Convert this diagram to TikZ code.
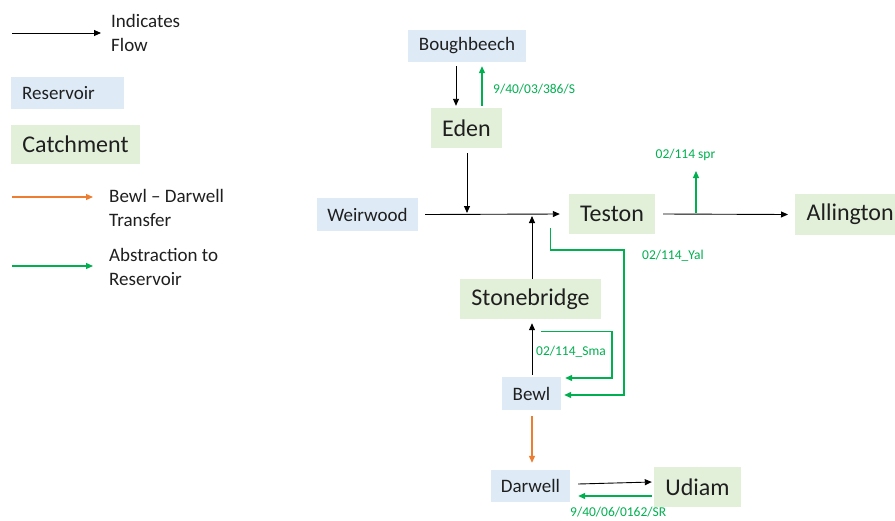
\documentclass[tikz,border=0pt]{standalone}
\usepackage{fontspec}
\setmainfont{Carlito}
\usetikzlibrary{arrows.meta,calc}
\definecolor{resv}{HTML}{DEEBF7}
\definecolor{catch}{HTML}{E2F0D9}
\definecolor{grn}{HTML}{00B050}
\definecolor{org}{HTML}{ED7D31}
\definecolor{txt}{HTML}{1F1F1F}
\begin{document}
\begin{tikzpicture}[x=1pt,y=-1pt,
  res/.style={fill=resv, text=txt, font=\fontsize{19}{23}\selectfont, inner sep=0pt, anchor=center},
  cat/.style={fill=catch, text=txt, font=\fontsize{24}{28}\selectfont, inner sep=0pt, anchor=center},
  legtext/.style={text=txt, font=\fontsize{19}{24}\selectfont, align=left, anchor=west, inner sep=0pt},
  glabel/.style={text=grn, font=\fontsize{13.5}{16}\selectfont, inner sep=0pt},
  tip/.style={-{Triangle[length=7pt,width=6pt]}},
  flow/.style={tip, draw=black, line width=0.9pt},
  abst/.style={tip, draw=grn, line width=1.2pt},
  xfer/.style={tip, draw=org, line width=1.2pt}]
\useasboundingbox (0,0) rectangle (895,520);
\fill[white] (0,0) rectangle (895,520);

% ---- legend ----
\coordinate (lfa) at (12,33);
\coordinate (lfb) at (101,33);
\draw[flow] (lfa) -- (lfb);
\node[legtext] (lflow) at (111,33) {Indicates\\Flow};
\node[res, minimum width=113pt, minimum height=32pt] (lres) at (67.5,93) {};
\node[text=txt, font=\fontsize{19}{23}\selectfont, anchor=west, inner sep=0pt] (lrest) at (22,93) {Reservoir};
\node[cat, minimum width=129pt, minimum height=39pt] (lcat) at (75.5,144.5) {Catchment};
\coordinate (loa) at (12,197);
\coordinate (lob) at (93,197);
\draw[xfer] (loa) -- (lob);
\node[legtext] (lorg) at (109,207.5) {Bewl -- Darwell\\Transfer};
\coordinate (lga) at (12,266);
\coordinate (lgb) at (93,266);
\draw[abst] (lga) -- (lgb);
\node[legtext] (lgrn) at (109,266.5) {Abstraction to\\Reservoir};

% ---- nodes ----
\node[res, minimum width=118pt, minimum height=32pt] (bough) at (467,46) {Boughbeech};
\node[cat, minimum width=71pt, minimum height=40pt] (eden) at (466.5,128) {Eden};
\node[res, minimum width=101pt, minimum height=33pt] (weir) at (367.5,214.5) {Weirwood};
\node[cat, minimum width=86pt, minimum height=40pt] (teston) at (612,214) {Teston};
\node[cat, minimum width=110pt, minimum height=41pt, anchor=west] (alling) at (795,214.5) {Allington};
\node[cat, minimum width=141pt, minimum height=40pt] (stone) at (530.5,299) {Stonebridge};
\node[res, minimum width=59pt, minimum height=33pt] (bewl) at (531.5,393.5) {Bewl};
\node[res, minimum width=79pt, minimum height=32pt] (darw) at (530.5,486) {Darwell};
\node[cat, minimum width=87pt, minimum height=40pt] (udiam) at (697.5,487) {Udiam};

% ---- connectors ----
% Boughbeech <-> Eden
\draw[flow] ([xshift=-11pt,yshift=-4pt]bough.south) -- ([xshift=-10.5pt,yshift=2pt]eden.north);
\draw[abst] ([xshift=15.5pt,yshift=2pt]eden.north) -- ([xshift=15pt,yshift=-4pt]bough.south);
\node[glabel, anchor=west] (l386) at (493,89) {9/40/03/386/S};

% Weirwood -> Teston, with Eden and Stonebridge joining
\coordinate (jeden) at (467,214);
\coordinate (jstone) at (532,214);
\draw[flow] ([xshift=7pt]weir.east) -- ([xshift=-9pt]teston.west);
\draw[flow] ([xshift=0.5pt,yshift=-5pt]eden.south) -- ([yshift=1pt]jeden);
\draw[flow] ([xshift=1.5pt]stone.north) -- ([yshift=-2pt]jstone);

% Teston abstraction to Bewl
\coordinate (tyal) at ($(teston.west)+(-18,14)$);
\draw[abst] (tyal) -- ++(0,22) -| (624,395) -- ([xshift=3pt,yshift=-1.5pt]bewl.east);
\node[glabel, anchor=west] (lyal) at (642,256) {02/114\_Yal};

% Teston -> Allington, with abstraction
\draw[flow] ([xshift=8pt]teston.east) -- ([xshift=-7pt]alling.west);
\coordinate (jspr) at (696,213);
\coordinate (tspr) at (696,171);
\draw[abst] (jspr) -- (tspr);
\node[glabel] (lspr) at (685.5,155) {02/114 spr};

% Bewl -> Stonebridge, with abstraction loop
\draw[flow] ([xshift=0.5pt,yshift=2pt]bewl.north) -- ([xshift=1.5pt,yshift=-4pt]stone.south);
\coordinate (ssma) at ($(stone.south)+(10.5,12)$);
\draw[abst] (ssma) -| (612,378) -- ([xshift=4pt,yshift=15.5pt]bewl.east);
\node[glabel, anchor=west] (lsma) at (536,351.5) {02/114\_Sma};

% Bewl -> Darwell transfer
\draw[xfer] ([xshift=0.5pt,yshift=-6pt]bewl.south) -- ([xshift=1.5pt,yshift=7pt]darw.north);

% Darwell <-> Udiam
\draw[flow] ([xshift=8pt,yshift=2pt]darw.east) -- ([xshift=-2pt,yshift=5pt]udiam.west);
\draw[abst] ([xshift=-2pt,yshift=-9pt]udiam.west) -- ([xshift=8pt,yshift=-10pt]darw.east);
\node[glabel, anchor=west] (lsr) at (570,512) {9/40/06/0162/SR};
\end{tikzpicture}
\end{document}
